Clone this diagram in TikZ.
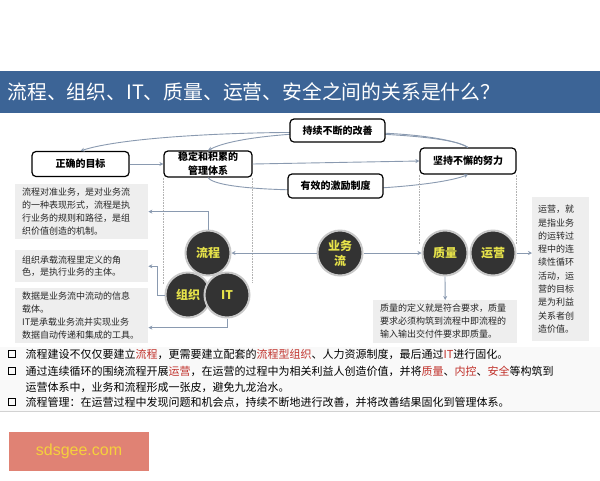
\documentclass[tikz,border=0pt]{standalone}
\usepackage{fontspec}
\usepackage{xcolor}
\usepackage{tikz}
\usetikzlibrary{arrows.meta}
\setmainfont{Noto Sans CJK SC}
\newfontfamily\urlfont{Liberation Sans}

\definecolor{titleblue}{HTML}{3C6496}
\definecolor{linkgray}{HTML}{8A9AB0}
\definecolor{notegray}{HTML}{EEEEEE}
\definecolor{ballgray}{HTML}{333333}
\definecolor{ringgray}{HTML}{C8C8C8}
\definecolor{ballyellow}{HTML}{E6E24A}
\definecolor{keyred}{HTML}{C0302A}
\definecolor{salmon}{HTML}{E08274}
\definecolor{urlyellow}{HTML}{F5D03C}

\tikzset{
  goalbox/.style={draw, line width=1.2pt, rounded corners=4pt, fill=white, minimum height=25pt, inner sep=0pt, align=center, font=\bfseries\fontsize{10}{14}\selectfont},
  ball/.style={circle, fill=ballgray, draw=ringgray, line width=2pt, minimum size=45pt, inner sep=0pt, text=ballyellow, align=center, font=\bfseries\fontsize{12}{15}\selectfont},
  notebox/.style={fill=notegray, anchor=north west, align=left, inner xsep=7pt, inner ysep=4pt, text=black!85, font=\fontsize{9}{12.8}\selectfont},
  link/.style={draw=linkgray, line width=0.9pt, -{Stealth[length=4pt,width=4pt]}},
  guide/.style={draw=gray!60, densely dotted, line width=0.6pt},
  bulletbox/.style={draw, line width=1.3pt, minimum size=7pt, inner sep=0pt},
  bullettext/.style={anchor=west, align=left, font=\fontsize{11}{16}\selectfont}
}

\begin{document}
\begin{tikzpicture}[x=1pt,y=-1pt]
    \useasboundingbox (0,0) rectangle (600,480);
    \fill[white] (0,0) rectangle (600,480);

    % Title bar
    \fill[titleblue] (0,71) rectangle (600,113);
    \node[anchor=west, text=white, font=\fontsize{19.8}{22}\selectfont] (title) at (4,92) {流程、组织、IT、质量、运营、安全之间的关系是什么？};

    % Goal boxes
    \node[goalbox, minimum width=97pt] (goal) at (80.5,164) {正确的目标};
    \node[goalbox, minimum width=88pt, minimum height=26pt] (wending) at (208,164) {稳定和积累的\\管理体系};
    \node[goalbox, minimum width=96pt, minimum height=26pt] (jianchi) at (468,161) {坚持不懈的努力};

    % Loop curves
    \draw[link] (jianchi.north) .. controls (440,126) and (150,128) .. (goal.north);
    \draw[link] (jianchi.north) .. controls (430,126) and (250,128) .. (wending.north);
    \draw[link] (wending.south) .. controls (220,196) and (420,193) .. (jianchi.south);
    \draw[link] (goal.east) -- (wending.west);
    \draw[link] (wending.east) -- (jianchi.west);

    \node[goalbox, minimum width=95pt, minimum height=23pt] (chixu) at (337.5,130.5) {持续不断的改善};
    \node[goalbox, minimum width=95pt, minimum height=24pt] (youxiao) at (335.5,186) {有效的激励制度};

    % Guide lines
    \draw[guide] (wending.south west) -- ++(0,107);
    \draw[guide] (wending.south east) -- ++(0,105);
    \draw[guide] (jianchi.south west) -- ++(0,70);
    \draw[guide] (jianchi.south east) -- ++(0,70);

    % Notes
    \node[notebox, text width=119pt] (note1) at (15,184) {流程对准业务，是对业务流\\的一种表现形式，流程是执\\行业务的规则和路径，是组\\织价值创造的机制。};
    \node[notebox, text width=119pt, minimum height=32pt] (note2) at (15,250) {组织承载流程里定义的角\\色，是执行业务的主体。};
    \node[notebox, text width=119pt] (note3) at (15,288) {数据是业务流中流动的信息\\载体。\\IT是承载业务流并实现业务\\数据自动传递和集成的工具。};
    \node[notebox, text width=45pt, inner xsep=6pt, inner ysep=8pt, font=\fontsize{9}{13.3}\selectfont] (yunyingnote) at (532,197) {运营，就\\是指业务\\的运转过\\程中的连\\续性循环\\活动，运\\营的目标\\是为利益\\关系者创\\造价值。};
    \node[notebox, text width=130pt, font=\fontsize{9}{13}\selectfont] (zhiliangnote) at (373,300) {质量的定义就是符合要求，质量\\要求必须构筑到流程中即流程的\\输入输出交付件要求即质量。};

    % Circles
    \node[ball] (liucheng) at (208,253) {流程};
    \node[ball] (zuzhi) at (188,295) {组织};
    \node[ball] (itball) at (227,295) {IT};
    \node[ball] (yewu) at (340,253) {业务\\流};
    \node[ball] (zhiliang) at (445,253) {质量};
    \node[ball] (yunying) at (493,253) {运营};

    % Links to notes
    \draw[link] (liucheng.north) |- (note1.east);
    \draw[link] (zuzhi.west) -- ++(-7,0) |- (note2.east);
    \draw[link] (itball.south) |- ([yshift=-12pt]note3.east);
    \draw[link] (yewu.west) -- (liucheng.east);
    \draw[link] (yewu.east) -- (zhiliang.west);
    \draw[link] (yunying.east) -- (yunying.east -| yunyingnote.west);
    \draw[link] (zhiliang.south) -- (zhiliangnote.north);

    % Summary lines
    \fill[gray!5] (0,347) rectangle (600,411);
    \draw[gray!35] (0,411) -- (600,411);
    \node[bulletbox] (b1) at (12,354) {};
    \node[bulletbox] (b2) at (12,371) {};
    \node[bulletbox] (b3) at (12,402) {};
    \node[bullettext] (line1) at (22,354) {流程建设不仅仅要建立\textcolor{keyred}{流程}，更需要建立配套的\textcolor{keyred}{流程型组织}、人力资源制度，最后通过\textcolor{keyred}{IT}进行固化。};
    \node[bullettext] (line2) at (22,379) {通过连续循环的围绕流程开展\textcolor{keyred}{运营}，在运营的过程中为相关利益人创造价值，并将\textcolor{keyred}{质量}、\textcolor{keyred}{内控}、\textcolor{keyred}{安全}等构筑到\\运营体系中，业务和流程形成一张皮，避免九龙治水。};
    \node[bullettext] (line3) at (22,402) {流程管理：在运营过程中发现问题和机会点，持续不断地进行改善，并将改善结果固化到管理体系。};

    % Site tag
    \node[fill=salmon, minimum width=140pt, minimum height=39pt, text=urlyellow, font=\urlfont\fontsize{16}{18}\selectfont] (site) at (79,451) {sdsgee.com};
\end{tikzpicture}
\end{document}
